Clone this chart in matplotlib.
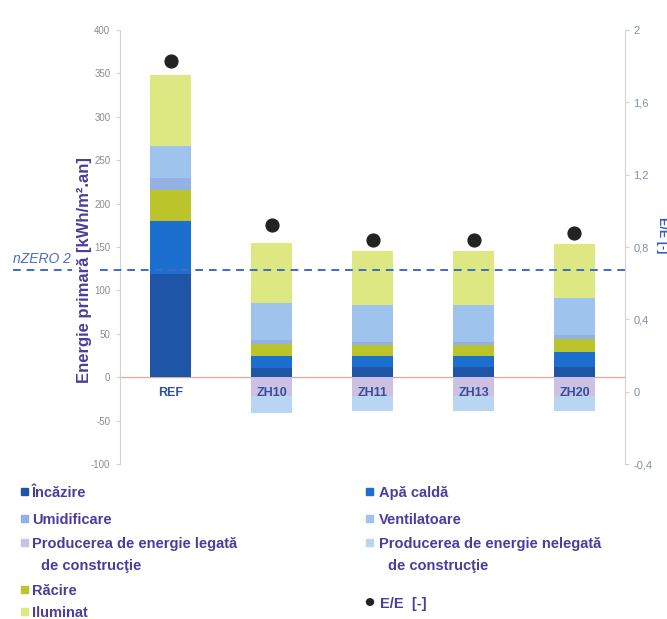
import matplotlib
matplotlib.use('Agg')
import matplotlib.pyplot as plt
import matplotlib.patches as mpatches
import numpy as np

plt.rcParams['font.family'] = ['Liberation Sans', 'DejaVu Sans']
plt.rcParams['axes.unicode_minus'] = False

# Categories and stacked energy components [kWh/m2.an]
categories = ['REF', 'ZH10', 'ZH11', 'ZH13', 'ZH20']
incalzire = [119, 11, 12, 12, 12]
apa_calda = [61, 14, 12, 12, 17]
racire = [36, 13.5, 13, 13, 15]
umidificare = [14, 4, 4, 4, 5]
ventilatoare = [37, 43.5, 42, 42, 42]
iluminat = [81, 69, 62, 62, 63]
prod_legata = [0, -22, -22, -22, -22]
prod_nelegata = [0, -19, -17, -17, -17]
ee = [1.83, 0.92, 0.84, 0.84, 0.88]
nzero2 = 124

left_ticks = [-100, -50, 0, 50, 100, 150, 200, 250, 300, 350, 400]
right_ticks = [-0.4, 0, 0.4, 0.8, 1.2, 1.6, 2]
right_tick_labels = ['-0,4', '0', '0,4', '0,8', '1,2', '1,6', '2']

c_inc = '#1f55a6'
c_apa = '#1c6fcf'
c_rac = '#bcc42c'
c_umi = '#93b1e2'
c_ven = '#9ec3ec'
c_ilu = '#dde883'
c_leg = '#cdc1e3'
c_nel = '#b9d5f1'
c_txt = '#4b3c9e'

W, H = 667, 619
fig = plt.figure(figsize=(W / 100, H / 100), dpi=100)
ax = fig.add_axes([0.18, 0.2504, 0.757, 0.701])
ax.set_xlim(-0.5, 4.5)
ax.set_ylim(-100, 400)

x = np.arange(len(categories))
bw = 0.41

# positive stack
bottom = np.zeros(len(categories))
for vals, col in [(incalzire, c_inc), (apa_calda, c_apa), (racire, c_rac),
                  (umidificare, c_umi), (ventilatoare, c_ven), (iluminat, c_ilu)]:
    ax.bar(x, vals, bw, bottom=bottom, color=col, zorder=2)
    bottom += np.array(vals)

# negative stack (energy production)
ax.bar(x, prod_legata, bw, color=c_leg, zorder=2)
ax.bar(x, prod_nelegata, bw, bottom=prod_legata, color=c_nel, zorder=2)

ax.axhline(0, color='#d6ab9c', lw=0.9, zorder=1)

for spine in ['top', 'bottom', 'right']:
    ax.spines[spine].set_visible(False)
ax.spines['left'].set_color('#d2d2d2')
ax.set_xticks([])
ax.set_yticks(left_ticks)
ax.tick_params(axis='y', colors='#d2d2d2', labelcolor='#8c8c8c', labelsize=7, length=3, pad=4)

for i, cat in enumerate(categories):
    ax.text(i, -18.5, cat, ha='center', va='center', fontsize=9,
            fontweight='bold', color='#2f52a0', zorder=4)

# nZERO 2 limit
ax.plot([-0.04, 1.0], [nzero2, nzero2], transform=ax.get_yaxis_transform(),
        ls=(0, (4, 3)), color='#3a6ec8', lw=1.4, clip_on=False, zorder=3)
ax.plot([-0.212, -0.095], [nzero2, nzero2], transform=ax.get_yaxis_transform(),
        ls=(0, (4, 3)), color='#3a6ec8', lw=1.4, clip_on=False, zorder=3)
ax.text(-0.212, nzero2 + 4, 'nZERO 2', transform=ax.get_yaxis_transform(),
        ha='left', va='bottom', fontsize=10, style='italic', color='#4a6fc2')

# secondary axis for E/E
ax2 = ax.twinx()
ax2.set_ylim(-0.4, 2)
for spine in ['top', 'bottom', 'left']:
    ax2.spines[spine].set_visible(False)
ax2.spines['right'].set_color('#d2d2d2')
ax2.set_yticks(right_ticks)
ax2.set_yticklabels(right_tick_labels)
ax2.tick_params(axis='y', colors='#d2d2d2', labelcolor='#7d8fab', labelsize=8, length=3, pad=3)
ax2.scatter(x, ee, s=85, color='#222222', zorder=5)

fig.text(85 / W, 1 - 270 / H, 'Energie primară [kWh/m².an]',
         rotation=90, ha='center', va='center', fontsize=12, fontweight='bold', color=c_txt)
fig.text(662 / W, 1 - 235 / H, 'E/E [-]', rotation=-90, ha='center', va='center',
         fontsize=9, fontweight='bold', color='#3560b0')


# legend drawn by hand in two columns
def px(xp, yp):
    return xp / W, 1 - yp / H


def square(xp, yp, col):
    fig.add_artist(mpatches.Rectangle(px(xp, yp + 1.5), 7 / W, 7 / H, color=col,
                                      transform=fig.transFigure))


def label(xp, yp, s):
    fig.text(*px(xp, yp), s, ha='left', va='center', fontsize=10.5,
             fontweight='bold', color=c_txt)


left_items = [('Încăzire', c_inc, 493), ('Umidificare', c_umi, 520),
              ('Producerea de energie legată', c_leg, 544),
              ('Răcire', c_rac, 591), ('Iluminat', c_ilu, 613)]
right_items = [('Apă caldă', c_apa, 493), ('Ventilatoare', c_ven, 520),
               ('Producerea de energie nelegată', c_nel, 544)]

for s, col, yp in left_items:
    square(21, yp, col)
    label(32, yp, s)
label(41, 566, 'de construcţie')

for s, col, yp in right_items:
    square(366, yp, col)
    label(379, yp, s)
label(388, 566, 'de construcţie')

fig.add_artist(mpatches.Circle(px(370, 602), 3.5 / W, color='#222222',
                               transform=fig.transFigure))
label(380, 604, 'E/E  [-]')

fig.savefig('out.png', dpi=100)
